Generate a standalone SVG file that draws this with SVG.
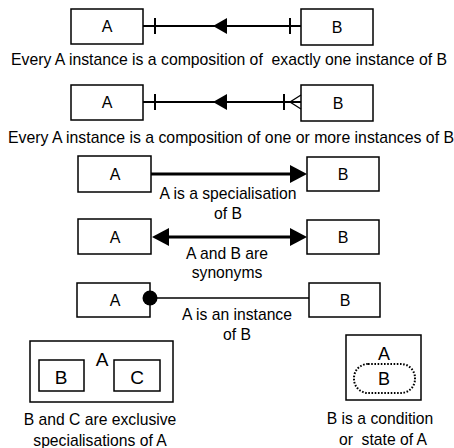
<svg xmlns="http://www.w3.org/2000/svg" width="454" height="448" viewBox="0 0 454 448">
<style>
.box{fill:#fff;stroke:#000;stroke-width:1.5}
.t{font-family:"Liberation Sans",Arial,sans-serif;font-size:16px;fill:#000;text-anchor:middle}
.c{font-family:"Liberation Sans",Arial,sans-serif;font-size:15.7px;fill:#000;text-anchor:middle}
.l2{stroke:#000;stroke-width:2;fill:none}
.l3{stroke:#000;stroke-width:3;fill:none}
.l1{stroke:#000;stroke-width:1.3;fill:none}
.ah{fill:#000;stroke:none}
</style>
<rect width="454" height="448" fill="#fff"/>
<g id="r1A"><rect class="box" x="71" y="9" width="72" height="35"/><text class="t" x="107" y="32">A</text></g>
<g id="r1B"><rect class="box" x="301" y="9" width="72" height="36"/><text class="t" x="337" y="33">B</text></g>
<text class="c" x="229" y="65" textLength="436" lengthAdjust="spacingAndGlyphs" xml:space="preserve">Every A instance is a composition of  exactly one instance of B</text>

<g id="r2A"><rect class="box" x="71" y="85" width="72" height="35"/><text class="t" x="107" y="108">A</text></g>
<g id="r2B"><rect class="box" x="301" y="85" width="72" height="36"/><text class="t" x="338" y="109">B</text></g>
<text class="c" x="231" y="143" textLength="446" lengthAdjust="spacingAndGlyphs">Every A instance is a composition of one or more instances of B</text>

<g id="r3A"><rect class="box" x="78" y="156" width="73" height="36"/><text class="t" x="115" y="180">A</text></g>
<g id="r3B"><rect class="box" x="307" y="157" width="72" height="34"/><text class="t" x="343" y="180">B</text></g>
<text class="c" x="228" y="199">A is a specialisation</text>
<text class="c" x="228" y="219">of B</text>

<g id="r4A"><rect class="box" x="78" y="219" width="73" height="35"/><text class="t" x="115" y="243">A</text></g>
<g id="r4B"><rect class="box" x="307" y="220" width="72" height="34"/><text class="t" x="343" y="243">B</text></g>
<text class="c" x="227" y="259">A and B are</text>
<text class="c" x="227" y="278">synonyms</text>

<g id="r5A"><rect class="box" x="77" y="283" width="73" height="34"/><text class="t" x="115" y="306">A</text></g>
<g id="r5B"><rect class="box" x="309" y="283" width="71" height="34"/><text class="t" x="345" y="306">B</text></g>
<text class="c" x="237" y="320">A is an instance</text>
<text class="c" x="237" y="340">of B</text>

<g id="exclusive">
  <rect class="box" x="30" y="341" width="143" height="61"/>
  <text class="t" x="102" y="366" style="font-size:19px">A</text>
  <g id="exB"><rect class="box" x="39" y="360" width="45" height="31"/><text class="t" x="61" y="384" style="font-size:19px">B</text></g>
  <g id="exC"><rect class="box" x="114" y="360" width="46" height="31"/><text class="t" x="137" y="384" style="font-size:19px">C</text></g>
</g>
<text class="c" x="100" y="425">B and C are exclusive</text>
<text class="c" x="100" y="446">specialisations of A</text>

<g id="condition">
  <rect class="box" x="346" y="335" width="75" height="65"/>
  <text class="t" x="384" y="360" style="font-size:18px">A</text>
  <rect x="354" y="364" width="61" height="29" rx="14" ry="14" fill="none" stroke="#000" stroke-width="2" stroke-dasharray="1.6,1.6"/>
  <text class="t" x="384" y="385" style="font-size:18px">B</text>
</g>
<text class="c" x="380" y="424">B is a condition</text>
<text class="c" x="383" y="445" xml:space="preserve">or  state of A</text>

<g id="connectors">
  <g id="c1">
    <line class="l2" x1="143" y1="26" x2="301" y2="26"/>
    <line class="l2" x1="155" y1="18" x2="155" y2="34"/>
    <line class="l2" x1="290" y1="18" x2="290" y2="34"/>
    <polygon class="ah" points="213,26 227,18 227,34"/>
  </g>
  <g id="c2">
    <line class="l2" x1="143" y1="102" x2="301" y2="102"/>
    <line class="l2" x1="155" y1="94" x2="155" y2="110"/>
    <line class="l2" x1="284" y1="94" x2="284" y2="110"/>
    <polyline class="l1" points="301,95 290,102 301,109"/>
    <polygon class="ah" points="213,102 227,94 227,110"/>
  </g>
  <g id="c3">
    <line class="l3" x1="151" y1="174" x2="292" y2="174"/>
    <polygon class="ah" points="307,174 290,165 290,183"/>
  </g>
  <g id="c4">
    <line class="l3" x1="166" y1="237" x2="292" y2="237"/>
    <polygon class="ah" points="307,237 290,228 290,246"/>
    <polygon class="ah" points="152,237 169,228 169,246"/>
  </g>
  <g id="c5">
    <line class="l1" x1="150" y1="298" x2="309" y2="298"/>
    <circle cx="150" cy="298" r="7.5" fill="#000"/>
  </g>
</g>
</svg>
